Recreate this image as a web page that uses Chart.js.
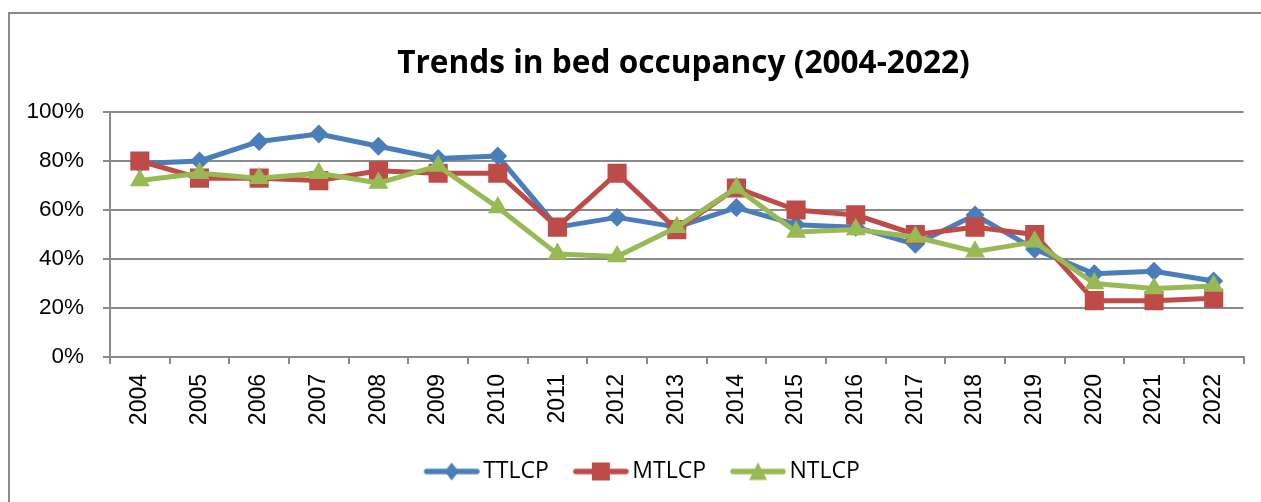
<!DOCTYPE html>
<html>
<head>
<meta charset="utf-8">
<script src="https://cdn.jsdelivr.net/npm/chart.js@4"></script>
<style>
  html, body { margin: 0; padding: 0; background: #fff; overflow: hidden; width: 1261px; height: 502px; }
  #frame { position: absolute; left: 8px; top: 12px; width: 1500px; height: 600px;
           border-left: 2px solid #8a8a8a; border-top: 2px solid #8a8a8a; }
  #wrap { position: absolute; left: 0; top: 0; width: 1367px; height: 502px; }
</style>
</head>
<body>
<div id="frame"></div>
<div id="wrap"><canvas id="c" width="1367" height="502"></canvas></div>
<script>
const categories = ["2004","2005","2006","2007","2008","2009","2010","2011","2012","2013","2014","2015","2016","2017","2018","2019","2020","2021","2022"];
const seriesNames = ["TTLCP", "MTLCP", "NTLCP"];
const ttlcp = [79, 80, 88, 91, 86, 81, 82, 53, 57, 53, 61, 54, 53, 46, 58, 44, 34, 35, 31];
const mtlcp = [80, 73, 73, 72, 76, 75, 75, 53, 75, 52, 69, 60, 58, 50, 53, 50, 23, 23, 24];
const ntlcp = [72, 75, 73, 75, 71, 78, 61, 42, 41, 53, 69, 51, 52, 49, 43, 47, 30, 28, 29];
const yTicks = [0, 20, 40, 60, 80, 100];
const titleText = "Trends in bed occupancy (2004-2022)";

const colors = ["#4a7ebb", "#be4b48", "#98b954"];
const styles = ["rectRot", "rect", "triangle"];
const radii = [9.5, 13.5, 11.5];
const gridColor = "#8a8a8a";

function legendImage(i) {
  const cv = document.createElement('canvas');
  cv.width = 64; cv.height = 24;
  const g = cv.getContext('2d');
  g.strokeStyle = colors[i]; g.fillStyle = colors[i];
  g.lineWidth = 5.5; g.lineCap = 'round';
  g.beginPath(); g.moveTo(11, 12); g.lineTo(61, 12); g.stroke();
  const cx = 36, cy = 12;
  g.beginPath();
  if (i === 0) { g.moveTo(cx, cy - 9); g.lineTo(cx + 7, cy); g.lineTo(cx, cy + 9); g.lineTo(cx - 7, cy); }
  else if (i === 1) { g.rect(cx - 9, cy - 9, 18, 18); }
  else { g.moveTo(cx, cy - 9); g.lineTo(cx + 9, cy + 8.5); g.lineTo(cx - 9, cy + 8.5); }
  g.closePath(); g.fill();
  return cv;
}
function blankImage() { const cv = document.createElement('canvas'); cv.width = 1; cv.height = 1; return cv; }

const values = [ttlcp, mtlcp, ntlcp];
const datasets = values.map((v, i) => ({
  label: seriesNames[i],
  data: v,
  borderColor: colors[i],
  backgroundColor: colors[i],
  borderWidth: 5,
  borderJoinStyle: 'round',
  borderCapStyle: 'round',
  pointStyle: styles[i],
  pointRadius: radii[i],
  pointHoverRadius: radii[i],
  pointBackgroundColor: colors[i],
  pointBorderColor: colors[i],
  pointBorderWidth: 0,
  tension: 0,
  order: 3 - i,
  yAxisID: 'y'
}));

new Chart(document.getElementById('c'), {
  type: 'line',
  data: { labels: categories, datasets },
  options: {
    responsive: false,
    animation: false,
    events: [],
    layout: { padding: { left: 0, right: 0, top: 0, bottom: 9 } },
    plugins: {
      tooltip: { enabled: false },
      title: {
        display: true,
        text: titleText,
        color: '#000',
        font: { family: 'Open Sans', size: 31.6, weight: 'bold', lineHeight: '38px' },
        padding: { top: 44.5, bottom: 29.5 }
      },
      legend: {
        display: true,
        position: 'bottom',
        labels: {
          usePointStyle: true,
          pointStyleWidth: 48,
          padding: 24,
          color: '#000',
          font: { family: 'Open Sans', size: 23 },
          generateLabels: () => {
            const items = seriesNames.map((n, i) => ({
              text: n, fillStyle: colors[i], strokeStyle: colors[i], lineWidth: 0,
              pointStyle: legendImage(i), hidden: false, datasetIndex: i, fontColor: '#000'
            }));
            items.push({ text: '', fillStyle: 'rgba(0,0,0,0)', strokeStyle: 'rgba(0,0,0,0)', lineWidth: 0,
              pointStyle: blankImage(), hidden: false, fontColor: 'rgba(0,0,0,0)' });
            return items;
          }
        }
      }
    },
    scales: {
      x: {
        type: 'category',
        offset: true,
        grid: { display: true, offset: true, drawOnChartArea: false, drawTicks: true, tickLength: 7, color: gridColor, lineWidth: 2 },
        border: { display: true, color: gridColor, width: 2 },
        ticks: { autoSkip: false, minRotation: 90, maxRotation: 90, padding: 10, color: '#000',
                 font: { family: 'Liberation Sans', size: 23 } },
        afterFit: s => { s.height = 79; }
      },
      y: {
        position: 'left',
        min: 0, max: 100,
        afterBuildTicks: s => { s.ticks = yTicks.map(v => ({ value: v })); },
        grid: { display: true, drawOnChartArea: true, drawTicks: true, tickLength: 7, color: gridColor, lineWidth: 2 },
        border: { display: true, color: gridColor, width: 2 },
        ticks: { padding: 19, color: '#000', font: { family: 'Liberation Sans', size: 22.5 },
                 callback: v => v + '%' },
        afterFit: s => { s.width = 110; }
      },
      y2: {
        position: 'right',
        display: true,
        grid: { display: false, drawTicks: false },
        border: { display: false },
        ticks: { display: false },
        afterFit: s => { s.width = 123.5; }
      }
    }
  }
});
</script>
</body>
</html>
